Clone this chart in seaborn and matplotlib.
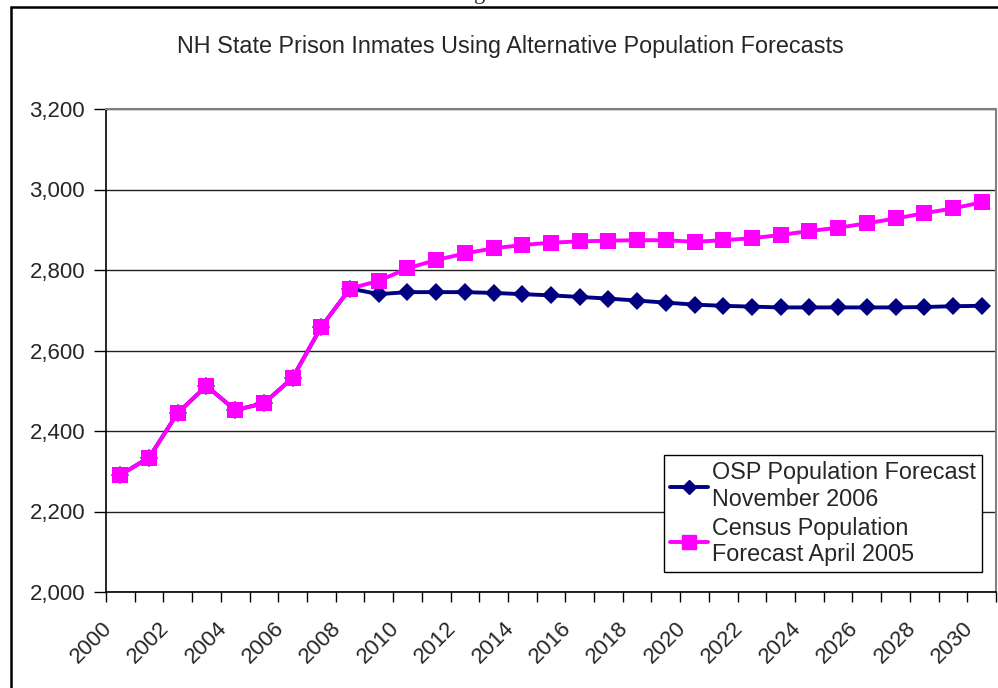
import matplotlib
matplotlib.use('Agg')
import matplotlib.pyplot as plt
from matplotlib.lines import Line2D
from matplotlib.ticker import FixedLocator, FuncFormatter
from matplotlib.transforms import ScaledTranslation
import pandas as pd
import seaborn as sns

# dati
years = list(range(2000, 2031))
osp = [2291, 2334, 2445, 2512, 2452, 2469, 2532, 2659, 2754, 2740,
       2745, 2745, 2745, 2743, 2740, 2737, 2733, 2729, 2724, 2719,
       2714, 2711, 2709, 2707, 2707, 2707, 2707, 2707, 2708, 2710, 2711]
census = [2291, 2334, 2445, 2512, 2452, 2469, 2532, 2659, 2754, 2773,
          2804, 2825, 2841, 2854, 2862, 2868, 2871, 2873, 2874, 2874,
          2870, 2874, 2879, 2887, 2897, 2905, 2916, 2928, 2941, 2953, 2968]
series_names = ['OSP Population Forecast\nNovember 2006',
                'Census Population\nForecast April 2005']
title = 'NH State Prison Inmates Using Alternative Population Forecasts'

df = pd.DataFrame({
    'year': years * 2,
    'inmates': osp + census,
    'series': [series_names[0]] * len(years) + [series_names[1]] * len(years),
})

sns.set_style('white')
plt.rcParams['font.family'] = ['Liberation Sans', 'DejaVu Sans']

fig = plt.figure(figsize=(9.98, 6.88), dpi=100)
ax = fig.add_axes([106 / 998, 96 / 688, 890 / 998, 483 / 688])

palette = {series_names[0]: '#000080', series_names[1]: '#FF00FF'}
sns.lineplot(data=df, x='year', y='inmates', hue='series', style='series',
             markers={series_names[0]: 'D', series_names[1]: 's'},
             dashes=False, palette=palette, linewidth=2.8,
             markeredgewidth=0, ax=ax, legend=False)
for ln, ms in zip(ax.lines, [9, 11.5]):
    ln.set_markersize(ms)

ax.set_xlim(1999.5, 2030.5)
ax.set_ylim(2000, 3200)
ax.set_yticks(range(2000, 3201, 200))
ax.yaxis.set_major_formatter(FuncFormatter(lambda v, p: f'{int(v):,}'))
ax.set_xticks(range(2000, 2031, 2))
ax.xaxis.set_minor_locator(FixedLocator([y - 0.5 for y in range(2000, 2032)]))
ax.tick_params(axis='x', which='major', length=0, pad=0, labelsize=16)
ax.tick_params(axis='x', which='minor', length=7, width=1, color='black',
               direction='out', bottom=True)
ax.tick_params(axis='y', length=9, width=1, color='black', direction='out',
               left=True, labelsize=16, pad=6)
ax.set_xticklabels([str(y) for y in range(2000, 2031, 2)], rotation=45,
                   ha='right', va='top', rotation_mode='anchor')
# spostamento delle etichette inclinate come in Excel
offset = ScaledTranslation(-19 / 100, -26 / 100, fig.dpi_scale_trans)
for lab in ax.get_xticklabels():
    lab.set_transform(lab.get_transform() + offset)
ax.grid(axis='y', color='#222222', linewidth=1)
ax.set_axisbelow(True)
ax.set_xlabel('')
ax.set_ylabel('')
for side in ['left', 'bottom']:
    ax.spines[side].set_color('black')
    ax.spines[side].set_linewidth(1.2)
for side in ['top', 'right']:
    ax.spines[side].set_color('#808080')
    ax.spines[side].set_linewidth(1.5)

handles = [Line2D([], [], color='#000080', marker='D', markersize=7, lw=2.8),
           Line2D([], [], color='#FF00FF', marker='s', markersize=10, lw=2.8)]
leg = ax.legend(handles, series_names, loc='lower right',
                bbox_to_anchor=(982 / 998, 116 / 688),
                bbox_transform=fig.transFigure, fontsize=16.8,
                frameon=True, fancybox=False, framealpha=1,
                handlelength=1.6, handletextpad=0.2, borderpad=0.25,
                labelspacing=0.25, borderaxespad=0)
leg.get_frame().set_edgecolor('black')
leg.get_frame().set_linewidth(1)

fig.text(510 / 998, 1 - 46 / 688, title, ha='center', va='center', fontsize=16.8)

# cornice esterna e resto della didascalia tagliata in alto
fig.add_artist(Line2D([11 / 998, 11 / 998], [0, 1 - 7 / 688], color='black', lw=1.8))
fig.add_artist(Line2D([11 / 998, 1], [1 - 7 / 688, 1 - 7 / 688], color='black', lw=1.8))
fig.text(480 / 998, 1 + 1 / 688, 'g', ha='center', va='baseline',
         fontsize=16, family='Liberation Serif')

fig.savefig('out.png', dpi=100)
